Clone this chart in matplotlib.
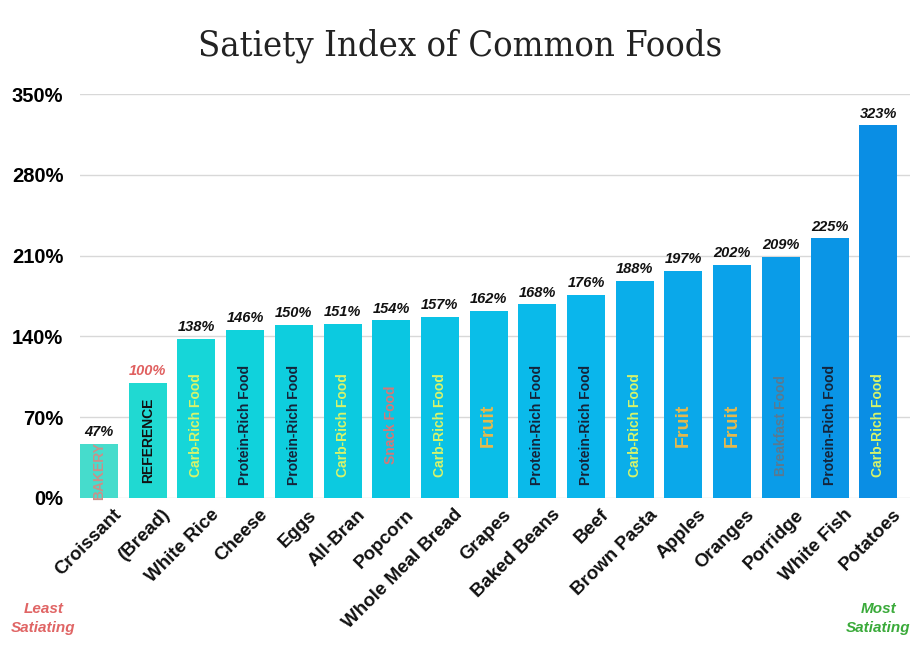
import matplotlib.pyplot as plt

plt.rcParams['font.family'] = ['Liberation Sans', 'DejaVu Sans']

# Data
foods = ['Croissant', '(Bread)', 'White Rice', 'Cheese', 'Eggs', 'All-Bran', 'Popcorn',
         'Whole Meal Bread', 'Grapes', 'Baked Beans', 'Beef', 'Brown Pasta', 'Apples',
         'Oranges', 'Porridge', 'White Fish', 'Potatoes']
satiety = [47, 100, 138, 146, 150, 151, 154, 157, 162, 168, 176, 188, 197, 202, 209, 225, 323]
groups = ['BAKERY', 'REFERENCE', 'Carb-Rich Food', 'Protein-Rich Food', 'Protein-Rich Food',
          'Carb-Rich Food', 'Snack Food', 'Carb-Rich Food', 'Fruit', 'Protein-Rich Food',
          'Protein-Rich Food', 'Carb-Rich Food', 'Fruit', 'Fruit', 'Breakfast Food',
          'Protein-Rich Food', 'Carb-Rich Food']
y_ticks = [0, 70, 140, 210, 280, 350]

# Styling
bar_colors = ['#46dccc', '#20d9d2', '#16d6d8', '#10d2dc', '#0ecede', '#0ccae0', '#0ac6e2',
              '#0ac2e6', '#0abee8', '#0abaea', '#0ab6ec', '#0aaeea', '#0aa8ea', '#0aa2ea',
              '#0a9ce8', '#0a95e6', '#0a8ee4']
group_colors = {'BAKERY': '#c8918a', 'REFERENCE': '#111111', 'Carb-Rich Food': '#d8f46a',
                'Protein-Rich Food': '#15243a', 'Snack Food': '#d47878', 'Fruit': '#e6b94c',
                'Breakfast Food': '#587a92'}

fig = plt.figure(figsize=(9.2, 6.5), dpi=100)
ax = fig.add_axes([0.087, 0.234, 0.902, 0.621])

x = range(len(foods))
ax.bar(x, satiety, width=0.78, color=bar_colors, zorder=2)

for i, (v, g) in enumerate(zip(satiety, groups)):
    lab_color = '#e06060' if g == 'REFERENCE' else '#111111'
    ax.text(i, v + 4, f'{v}%', ha='center', va='bottom', fontsize=10.5,
            fontweight='bold', style='italic', color=lab_color)
    size = 14 if g == 'Fruit' else 10
    ax.text(i, min(63, v / 2), g, rotation=90, ha='center', va='center',
            fontsize=size, fontweight='bold', color=group_colors[g])

# category labels, shifted right of the bar centres like the original
for i, name in enumerate(foods):
    ax.annotate(name, (i, 0), xytext=(10, -6), textcoords='offset points',
                rotation=45, ha='right', va='top', rotation_mode='anchor',
                fontsize=13.5, fontweight='bold', color='#111111',
                annotation_clip=False)

ax.set_ylim(0, 350)
ax.set_xlim(-0.39, 16.65)
ax.set_yticks(y_ticks)
ax.set_yticklabels([f'{t}%' for t in y_ticks], fontsize=14.5, fontweight='bold')
ax.set_xticks(list(x))
ax.set_xticklabels([])
ax.tick_params(length=0)
ax.tick_params(axis='y', pad=12)
ax.grid(axis='y', color='#d8d8d8', linewidth=1, zorder=0)
for s in ax.spines.values():
    s.set_visible(False)

fig.text(0.5, 0.93, 'Satiety Index of Common Foods', ha='center', va='center',
         fontsize=26, family='DejaVu Serif', fontstretch='condensed', color='#222222')
fig.text(0.047, 0.049, 'Least\nSatiating', ha='center', va='center', fontsize=11,
         fontweight='bold', style='italic', color='#e06565', linespacing=1.45)
fig.text(0.955, 0.049, 'Most\nSatiating', ha='center', va='center', fontsize=11,
         fontweight='bold', style='italic', color='#3aaa3a', linespacing=1.45)

fig.savefig('out.png', dpi=100, facecolor='white')
